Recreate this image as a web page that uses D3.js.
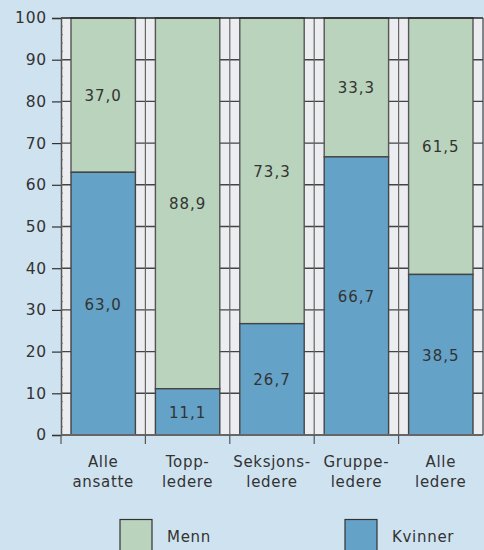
<!DOCTYPE html>
<html><head><meta charset="utf-8">
<script src="https://cdn.jsdelivr.net/npm/d3@7"></script>
<style>
html,body{margin:0;padding:0;background:#cfe2f0;}
svg{display:block;font-family:"DejaVu Sans",sans-serif;}
</style></head>
<body>
<svg id="chart" width="484" height="550"></svg>
<script>
const categories = [["Alle","ansatte"],["Topp-","ledere"],["Seksjons-","ledere"],["Gruppe-","ledere"],["Alle","ledere"]];
const kvinner = [63.0, 11.1, 26.7, 66.7, 38.5];
const menn = [37.0, 88.9, 73.3, 33.3, 61.5];
const yTicks = [0,10,20,30,40,50,60,70,80,90,100];
const seriesNames = ["Menn","Kvinner"];
const colors = {Menn:"#b9d3bc", Kvinner:"#65a2c7"};

const svg = d3.select("#chart");
const L = 61, R = 483, T = 18, B = 435;
const x = d3.scaleBand().domain(d3.range(categories.length)).range([L, R]).paddingInner(0).paddingOuter(0);
const y = d3.scaleLinear().domain([0,100]).range([B, T]);
const fmt = v => v.toFixed(1).replace(".", ",");
const txt = "#333";

// plot background
svg.append("rect").attr("x", L).attr("y", T).attr("width", R-L).attr("height", B-T).attr("fill", "#ecedf0");

// gridlines
svg.append("g").selectAll("line").data(yTicks.filter(d => d>0 && d<100)).join("line")
  .attr("x1", L).attr("x2", R).attr("y1", d => y(d)).attr("y2", d => y(d))
  .attr("stroke", "#444").attr("stroke-width", 1.4);

// category separators
svg.append("g").selectAll("line").data(d3.range(1, categories.length)).join("line")
  .attr("x1", i => x(i)).attr("x2", i => x(i)).attr("y1", T).attr("y2", B)
  .attr("stroke", "#666").attr("stroke-width", 1.2);

const pad = 10;
const bw = x.bandwidth() - 2*pad;
const data = categories.map((c,i) => ({i, k: kvinner[i], m: menn[i]}));

const bars = svg.append("g");
data.forEach(d => {
  const x0 = x(d.i) + pad;
  bars.append("rect").attr("x", x0).attr("y", y(100)).attr("width", bw).attr("height", y(d.k) - y(100))
    .attr("fill", colors.Menn).attr("stroke", "#555").attr("stroke-width", 1.4);
  bars.append("rect").attr("x", x0).attr("y", y(d.k)).attr("width", bw).attr("height", y(0) - y(d.k))
    .attr("fill", colors.Kvinner).attr("stroke", "#444").attr("stroke-width", 1.4);
  bars.append("text").attr("x", x0 + bw/2).attr("y", (y(100)+y(d.k))/2 + 6)
    .attr("text-anchor","middle").attr("font-size", 15).attr("letter-spacing", 1).attr("fill", txt).text(fmt(d.m));
  bars.append("text").attr("x", x0 + bw/2).attr("y", (y(d.k)+y(0))/2 + 6)
    .attr("text-anchor","middle").attr("font-size", 15).attr("letter-spacing", 1).attr("fill", txt).text(fmt(d.k));
});

// top border & right border
svg.append("line").attr("x1", L).attr("x2", R).attr("y1", T).attr("y2", T).attr("stroke", "#222").attr("stroke-width", 1.5);
svg.append("line").attr("x1", R).attr("x2", R).attr("y1", T).attr("y2", B).attr("stroke", "#444").attr("stroke-width", 1.2);

// y axis
const yAxis = d3.axisLeft(y).tickValues(yTicks).tickSize(9).tickPadding(5).tickFormat(d3.format("d"));
const gy = svg.append("g").attr("transform", `translate(${L},0)`).call(yAxis);
gy.select(".domain").attr("stroke", "#555").attr("stroke-width", 1.5);
gy.selectAll(".tick line").attr("stroke", "#333").attr("stroke-width", 1.2);
gy.selectAll(".tick text").attr("font-size", 15.5).attr("font-family", "DejaVu Sans").attr("fill", txt).attr("letter-spacing", 0.8);
// minor ticks on y axis
svg.append("g").selectAll("line").data(d3.range(0, 100, 2)).join("line")
  .attr("x1", L).attr("x2", L+2).attr("y1", d => y(d)).attr("y2", d => y(d))
  .attr("stroke", "#666").attr("stroke-width", 0.8);

// x axis
svg.append("line").attr("x1", L).attr("x2", R).attr("y1", B).attr("y2", B).attr("stroke", "#666").attr("stroke-width", 2);
svg.append("g").selectAll("line").data(d3.range(0, categories.length)).join("line")
  .attr("x1", i => x(i)).attr("x2", i => x(i)).attr("y1", B).attr("y2", B+9)
  .attr("stroke", "#555").attr("stroke-width", 1.2);
const xl = svg.append("g");
categories.forEach((c, i) => {
  const t = xl.append("text").attr("x", x(i) + x.bandwidth()/2).attr("text-anchor","middle")
    .attr("font-size", 15).attr("letter-spacing", 0.7).attr("fill", txt);
  c.forEach((line, j) => t.append("tspan").attr("x", x(i) + x.bandwidth()/2).attr("y", 467 + j*20).text(line));
});

// legend
const legendX = [120, 345];
seriesNames.forEach((s, i) => {
  svg.append("rect").attr("x", legendX[i]).attr("y", 519.5).attr("width", 32).attr("height", 40)
    .attr("fill", colors[s]).attr("stroke", "#333").attr("stroke-width", 1.2);
  svg.append("text").attr("x", legendX[i] + 47).attr("y", 542).attr("font-size", 15).attr("letter-spacing", 0.7)
    .attr("fill", txt).text(s);
});
</script>
</body></html>
